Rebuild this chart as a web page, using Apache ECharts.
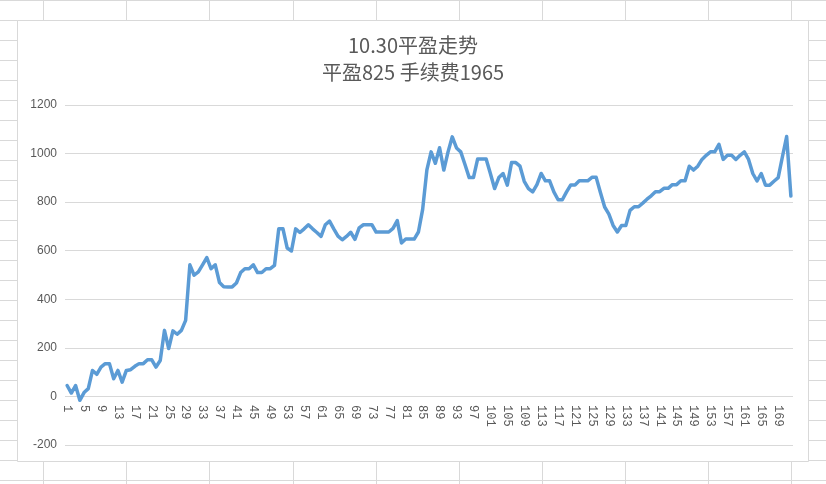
<!DOCTYPE html>
<html>
<head>
<meta charset="utf-8">
<script src="https://cdn.jsdelivr.net/npm/echarts@6/dist/echarts.min.js"></script>
<style>
html,body{margin:0;padding:0;background:#fff;}
#chart{width:826px;height:484px;}
</style>
</head>
<body>
<div id="chart"></div>
<script>
const titleLine1 = '10.30平盈走势';
const titleLine2 = '平盈825 手续费1965';

const values = [
  45, 14, 45, -16, 16, 32, 107, 91, 121, 135,
  135, 73, 107, 59, 107, 110, 124, 135, 135, 151,
  151, 121, 148, 272, 197, 270, 256, 272, 313, 542,
  499, 513, 542, 572, 526, 542, 469, 452, 451, 451,
  467, 510, 526, 526, 542, 510, 510, 526, 526, 540,
  690, 690, 611, 599, 690, 675, 690, 707, 690, 675,
  659, 707, 722, 690, 660, 645, 659, 676, 647, 694,
  707, 707, 707, 677, 677, 677, 677, 692, 724, 632,
  648, 648, 648, 677, 770, 933, 1007, 960, 1024, 932,
  1007, 1069, 1023, 1007, 955, 901, 901, 978, 978, 978,
  918, 856, 901, 918, 870, 963, 963, 948, 886, 856,
  842, 872, 918, 888, 888, 842, 810, 810, 842, 871,
  871, 888, 888, 888, 902, 902, 840, 780, 751, 704,
  677, 704, 704, 766, 781, 781, 796, 812, 826, 843,
  843, 857, 857, 872, 872, 888, 888, 948, 932, 948,
  976, 993, 1007, 1007, 1038, 976, 993, 993, 976, 993,
  1007, 976, 918, 887, 918, 870, 870, 886, 901, 987,
  1070, 825
];

const categories = values.map((_, i) => String(i + 1));

const yTicks = { min: -200, max: 1200, interval: 200 };

// spreadsheet background decoration
const gridColor = '#d9d9d9';
const decor = [];
for (let k = 0; k <= 24; k++) {
  const y = k * 20 + 0.5;
  decor.push({ type: 'line', z: -20, silent: true,
    shape: { x1: 0, y1: y, x2: 826, y2: y },
    style: { stroke: gridColor, lineWidth: 1 } });
}
for (let k = 0; k < 10; k++) {
  const x = Math.round(43.2 + k * 83.1) + 0.5;
  decor.push({ type: 'line', z: -20, silent: true,
    shape: { x1: x, y1: 0, x2: x, y2: 484 },
    style: { stroke: gridColor, lineWidth: 1 } });
}
decor.push({ type: 'rect', z: -10, silent: true,
  shape: { x: 17.5, y: 20.5, width: 791, height: 441 },
  style: { fill: '#ffffff', stroke: gridColor, lineWidth: 1 } });

const chart = echarts.init(document.getElementById('chart'), null, { renderer: 'canvas' });
chart.setOption({
  animation: false,
  backgroundColor: 'transparent',
  graphic: { elements: decor },
  title: {
    text: titleLine1 + '\n' + titleLine2,
    left: 'center',
    top: 27,
    textStyle: {
      fontFamily: '"Noto Sans CJK SC", "Noto Sans", sans-serif',
      fontSize: 20,
      fontWeight: 'normal',
      color: '#595959',
      lineHeight: 27
    }
  },
  grid: { left: 65, top: 105, width: 728, height: 340, containLabel: false },
  xAxis: {
    type: 'category',
    data: categories,
    boundaryGap: true,
    offset: -49,
    axisTick: { show: false },
    axisLine: { show: false, onZero: false },
    axisLabel: {
      interval: 3,
      rotate: -90,
      margin: 9,
      fontFamily: '"Liberation Mono", "DejaVu Sans Mono", monospace',
      fontSize: 12,
      color: '#595959'
    },
    splitLine: { show: false }
  },
  yAxis: {
    type: 'value',
    min: yTicks.min,
    max: yTicks.max,
    interval: yTicks.interval,
    axisLine: { show: false },
    axisTick: { show: false },
    axisLabel: {
      margin: 8,
      fontFamily: '"Liberation Sans", Arial, sans-serif',
      fontSize: 12,
      color: '#595959',
      formatter: (v) => String(v)
    },
    splitLine: { show: true, lineStyle: { color: gridColor, width: 1 } }
  },
  series: [{
    type: 'line',
    data: values,
    showSymbol: false,
    symbol: 'none',
    lineStyle: { color: '#5B9BD5', width: 3.5, cap: 'round', join: 'round' },
    itemStyle: { color: '#5B9BD5' }
  }]
});
</script>
</body>
</html>
